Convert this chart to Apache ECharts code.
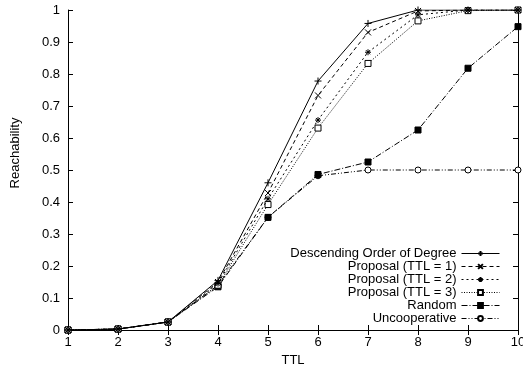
<!DOCTYPE html>
<html><head><meta charset="utf-8">
<script src="https://cdn.jsdelivr.net/npm/echarts@6/dist/echarts.min.js"></script>
<style>html,body{margin:0;padding:0;background:#fff}#c{width:523px;height:372px}</style>
</head><body><div id="c"></div>
<script>
const ttl = [1,2,3,4,5,6,7,8,9,10];
const seriesNames = ['Descending Order of Degree','Proposal (TTL = 1)','Proposal (TTL = 2)','Proposal (TTL = 3)','Random','Uncooperative'];
const descending = [0, 0.003, 0.025, 0.155, 0.46, 0.778, 0.958, 1.0, 1.0, 1.0];
const ttl1 = [0, 0.003, 0.025, 0.15, 0.428, 0.733, 0.93, 0.997, 1.0, 1.0];
const ttl2 = [0, 0.003, 0.025, 0.145, 0.41, 0.656, 0.868, 0.985, 1.0, 1.0];
const ttl3 = [0, 0.003, 0.025, 0.14, 0.392, 0.631, 0.833, 0.966, 0.998, 1.0];
const random = [0, 0.003, 0.025, 0.135, 0.352, 0.486, 0.525, 0.625, 0.818, 0.948];
const uncoop = [0, 0.003, 0.025, 0.14, 0.352, 0.482, 0.5, 0.5, 0.5, 0.5];
const xTitle = 'TTL';
const yTitle = 'Reachability';

const FONT = 'Liberation Sans';
const FS = 13;
const plus = 'path://M0,5L10,5M5,0L5,10';
const cross = 'path://M0,0L10,10M10,0L0,10';
const star = 'path://M0,5L10,5M5,0L5,10M1.5,1.5L8.5,8.5M8.5,1.5L1.5,8.5';
const defs = [
  {d: descending, sym: plus, size: 7, dash: 'solid', fill: 'none'},
  {d: ttl1, sym: cross, size: 6, dash: [4,3], fill: 'none'},
  {d: ttl2, sym: star, size: 6, dash: [2,3], fill: 'none'},
  {d: ttl3, sym: 'rect', size: 6, dash: [1,1.5], fill: '#fff'},
  {d: random, sym: 'rect', size: 6, dash: [6,2,1,2], fill: '#000'},
  {d: uncoop, sym: 'circle', size: 6, dash: [5,2,1,2,1,2], fill: '#fff'}
];
const series = defs.map((s, i) => ({
  name: seriesNames[i], type: 'line',
  data: ttl.map((x, j) => [x, s.d[j]]),
  symbol: s.sym, symbolSize: s.size, showSymbol: true,
  lineStyle: {color: '#000', width: 1, type: s.dash},
  itemStyle: {color: s.fill, borderColor: '#000', borderWidth: 1},
  emphasis: {disabled: true}, animation: false, z: 10 - i
}));

const chart = echarts.init(document.getElementById('c'), null, {renderer: 'canvas'});
const axisCommon = {
  axisLine: {show: true, lineStyle: {color: '#000', width: 1}},
  axisTick: {show: true, inside: true, length: 5, lineStyle: {color: '#000'}},
  splitLine: {show: false}
};
chart.setOption({
  animation: false,
  backgroundColor: '#fff',
  grid: {left: 68, right: 5, top: 10, bottom: 42, containLabel: false, outerBoundsMode: 'none'},
  xAxis: [
    Object.assign({type: 'value', min: 1, max: 10, interval: 1, name: xTitle, nameLocation: 'middle', nameGap: 22,
      nameTextStyle: {fontFamily: FONT, fontSize: FS, color: '#000'},
      axisLabel: {fontFamily: FONT, fontSize: FS, color: '#000', margin: 6}}, axisCommon),
    Object.assign({type: 'value', min: 1, max: 10, interval: 1, position: 'top', axisLabel: {show: false}}, axisCommon)
  ],
  yAxis: [
    Object.assign({type: 'value', min: 0, max: 1, interval: 0.1,
      axisLabel: {fontFamily: FONT, fontSize: FS, color: '#000', margin: 8, formatter: v => String(Math.round(v*10)/10)}}, axisCommon),
    Object.assign({type: 'value', min: 0, max: 1, interval: 0.1, position: 'right', axisLabel: {show: false}}, axisCommon)
  ],
  graphic: [{
    type: 'text', x: 15, y: 153, rotation: Math.PI / 2,
    style: {text: yTitle, fontFamily: FONT, fontSize: FS, fill: '#000', align: 'center', verticalAlign: 'middle'}
  }],
  legend: {
    orient: 'vertical', right: 23, top: 247, align: 'right', padding: 0,
    itemWidth: 38, itemHeight: 6, itemGap: 0,
    lineStyle: {width: 1},
    textStyle: {fontFamily: FONT, fontSize: FS, color: '#000', lineHeight: 13, padding: [0, 0, 0, 0]},
    data: seriesNames, selectedMode: false, backgroundColor: 'transparent'
  },
  series: series
});
</script></body></html>
